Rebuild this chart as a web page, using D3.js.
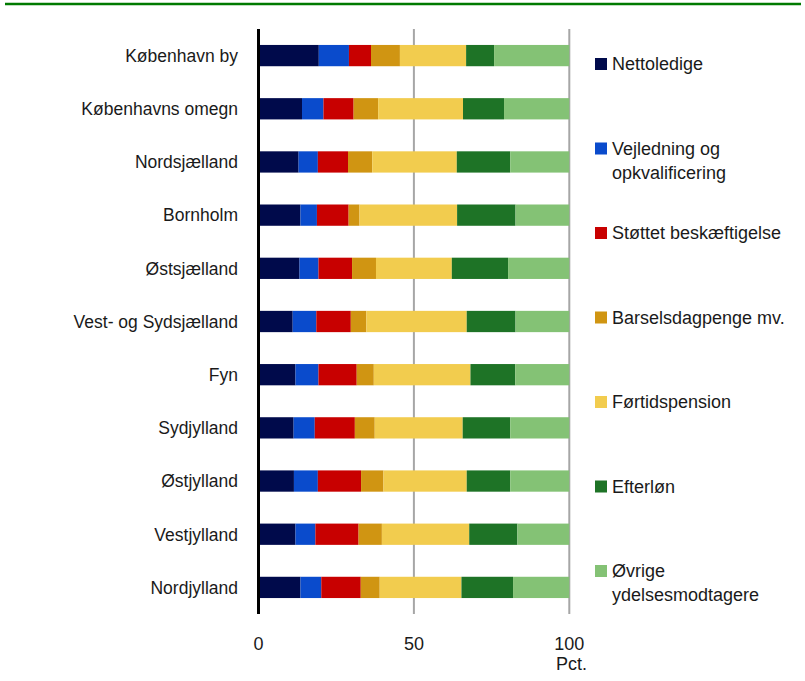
<!DOCTYPE html>
<html>
<head>
<meta charset="utf-8">
<script src="https://cdn.jsdelivr.net/npm/d3@7"></script>
<style>
  body { margin: 0; background: #fff; }
  svg text { font-family: "Liberation Sans", Arial, sans-serif; fill: #1a1a1a; }
</style>
</head>
<body>
<svg id="chart"></svg>
<script>
// regions, top to bottom
const regions = ['København by', 'Københavns omegn', 'Nordsjælland', 'Bornholm', 'Østsjælland',
  'Vest- og Sydsjælland', 'Fyn', 'Sydjylland', 'Østjylland', 'Vestjylland', 'Nordjylland']

const seriesNames = ['Nettoledige', 'Vejledning og opkvalificering', 'Støttet beskæftigelse',
  'Barselsdagpenge mv.', 'Førtidspension', 'Efterløn', 'Øvrige ydelsesmodtagere']

// shares in pct, one array per series, same order as regions
const nettoledige   = [19.4, 14.0, 12.9, 13.5, 13.2, 11.0, 11.9, 11.3, 11.4, 11.9, 13.5]
const vejledning    = [ 9.7,  6.9,  6.2,  5.3,  6.1,  7.6,  7.4,  6.8,  7.7,  6.4,  6.7]
const stoettet      = [ 7.1,  9.7,  9.7, 10.2, 10.8, 11.1, 12.3, 12.9, 13.9, 13.9, 12.7]
const barsel        = [ 9.3,  7.9,  7.8,  3.5,  7.7,  5.0,  5.5,  6.4,  7.2,  7.5,  6.1]
const foertid       = [21.3, 27.3, 27.2, 31.4, 24.4, 32.3, 31.1, 28.3, 26.8, 28.1, 26.3]
const efterloen     = [ 9.0, 13.2, 17.2, 18.8, 18.1, 15.7, 14.4, 15.3, 14.0, 15.5, 16.6]
const oevrige       = [24.2, 21.0, 19.0, 17.3, 19.7, 17.3, 17.4, 19.0, 19.0, 16.7, 18.1]

const xTicks = [0, 50, 100]

const colors = ['#000a4b', '#0a4bcc', '#c80000', '#d09512', '#f2cc4e', '#1e7326', '#84c275']
const legendLines = [['Nettoledige'], ['Vejledning og', 'opkvalificering'], ['Støttet beskæftigelse'],
  ['Barselsdagpenge mv.'], ['Førtidspension'], ['Efterløn'], ['Øvrige', 'ydelsesmodtagere']]

const seriesValues = [nettoledige, vejledning, stoettet, barsel, foertid, efterloen, oevrige]
const rows = regions.map((r, i) => {
  const row = { region: r }
  seriesNames.forEach((s, j) => { row[s] = seriesValues[j][i] })
  return row
})
const stacked = d3.stack().keys(seriesNames)(rows)

const width = 805, height = 681
const svg = d3.select('#chart').attr('width', width).attr('height', height)

// green rule on top
svg.append('line').attr('x1', 5).attr('x2', 801).attr('y1', 4).attr('y2', 4)
  .attr('stroke', '#007a00').attr('stroke-width', 2.5)

const x = d3.scaleLinear().domain([0, 100]).range([258.5, 569.3])
const y = d3.scaleBand().domain(regions).range([29, 614]).paddingInner(0.6).paddingOuter(0.3)

// gridlines
svg.append('g').selectAll('line').data(xTicks.filter(d => d > 0)).join('line')
  .attr('x1', d => x(d)).attr('x2', d => x(d))
  .attr('y1', 29).attr('y2', 614)
  .attr('stroke', '#a6a6a6').attr('stroke-width', 2)

// bars
svg.append('g').selectAll('g').data(stacked).join('g')
  .attr('fill', (d, i) => colors[i])
  .selectAll('rect').data(d => d).join('rect')
  .attr('x', d => x(d[0]))
  .attr('width', d => x(d[1]) - x(d[0]))
  .attr('y', d => y(d.data.region))
  .attr('height', y.bandwidth())

// y axis line
svg.append('line').attr('x1', 258.5).attr('x2', 258.5).attr('y1', 29).attr('y2', 614)
  .attr('stroke', '#000').attr('stroke-width', 3)

// category labels
svg.append('g').selectAll('text').data(regions).join('text')
  .attr('x', 238)
  .attr('y', d => y(d) + y.bandwidth() / 2)
  .attr('dy', '0.36em')
  .attr('text-anchor', 'end')
  .attr('font-size', '17.5px')
  .text(d => d)

// x tick labels
svg.append('g').selectAll('text').data(xTicks).join('text')
  .attr('x', d => x(d))
  .attr('y', 650)
  .attr('text-anchor', 'middle')
  .attr('font-size', '18px')
  .text(d => d)

svg.append('text').attr('x', 587).attr('y', 670)
  .attr('text-anchor', 'end').attr('font-size', '18px').text('Pct.')

// legend
const legendY = d3.scaleLinear().domain([0, 6]).range([64, 571])
const lg = svg.append('g').selectAll('g').data(legendLines).join('g')
  .attr('transform', (d, i) => `translate(595,${legendY(i)})`)
lg.append('rect').attr('x', 0).attr('y', -6).attr('width', 12).attr('height', 12)
  .attr('fill', (d, i) => colors[i])
lg.each(function (d) {
  const t = d3.select(this).append('text').attr('x', 17).attr('font-size', '18px')
  d.forEach((line, k) => {
    t.append('tspan').attr('x', 17).attr('y', k * 24).attr('dy', '0.36em').text(line)
  })
})
</script>
</body>
</html>
